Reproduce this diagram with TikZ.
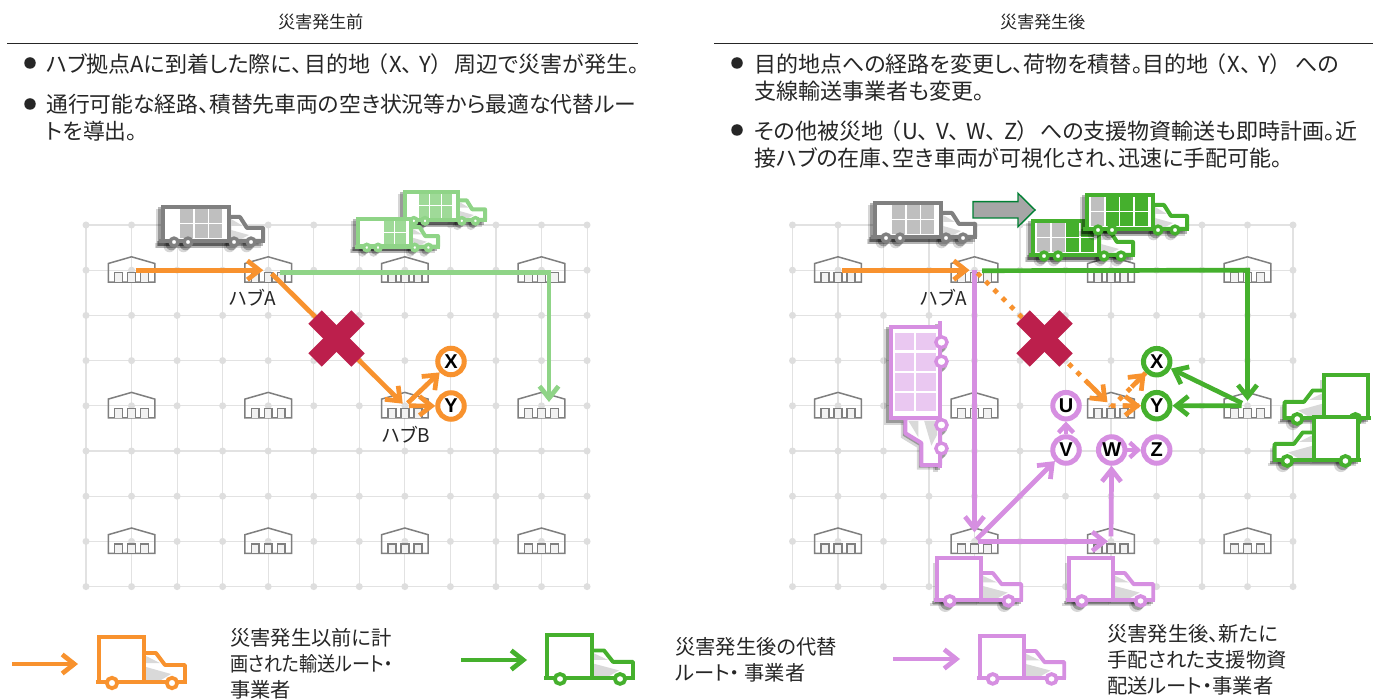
\documentclass[tikz,border=0pt]{standalone}
\usepackage{fontspec}
\setmainfont{Noto Sans CJK JP}[RawFeature={+palt}]
\newfontfamily\latinbold{Liberation Sans}[BoldFont={Liberation Sans Bold}]
\usetikzlibrary{arrows.meta,calc}
\definecolor{cgrid}{HTML}{E2E2E2}
\definecolor{cdot}{HTML}{DEDEDE}
\definecolor{chub}{HTML}{7F7F7F}
\definecolor{corange}{HTML}{F8922E}
\definecolor{cgreen}{HTML}{45B02D}
\definecolor{clight}{HTML}{8FD487}
\definecolor{cpurple}{HTML}{D68FE1}
\definecolor{cpcell}{HTML}{EAC8F1}
\definecolor{clcell}{HTML}{9FDA98}
\definecolor{cgcell}{HTML}{BFBFBF}
\definecolor{cdgray}{HTML}{808080}
\definecolor{ccross}{HTML}{BC1F4C}
\definecolor{ctext}{HTML}{262626}
\tikzset{
  route/.style={line width=4.7pt,-{Straight Barb[length=12pt,width=19pt,line width=4.7pt]}},
  oline/.style={route,draw=corange},
  gline/.style={route,draw=cgreen},
  fline/.style={route,draw=clight},
  pline/.style={route,draw=cpurple},
  dotline/.style={line width=4.7pt,draw=corange,dash pattern=on 4.7pt off 7pt},
  dothead/.style={line width=4.7pt,draw=corange,-{Straight Barb[length=12pt,width=19pt,line width=4.7pt]}},
  shortroute/.style={line width=4.4pt,draw=cpurple,-{Straight Barb[length=8pt,width=15pt,line width=4.4pt]}},
  spot/.style={circle,draw,line width=5pt,fill=white,minimum size=26.5pt,inner sep=0pt,font=\latinbold\bfseries\fontsize{20}{20}\selectfont,text=black},
  head/.style={font=\fontsize{17.2}{20}\selectfont,text=ctext,anchor=center},
  body/.style={font=\fontsize{22}{27}\selectfont,text=ctext,anchor=west,align=left,inner sep=0pt},
  legend/.style={font=\fontsize{20.3}{26}\selectfont,text=ctext,anchor=west,align=left,inner sep=0pt},
  hublabel/.style={font=\fontsize{19}{20}\selectfont,text=ctext,inner sep=0pt},
  rulebar/.style={draw=ctext,line width=0.9pt},
  bullet/.style={circle,fill=ctext,minimum size=11.5pt,inner sep=0pt},
  wh/.pic={
    \draw[chub,line width=1.5pt,line join=miter] (-23.3,12)--(-23.3,-6.7)--(0,-13.4)--(23.3,-6.7)--(23.3,12)--cycle;
    \foreach \d in {-13,0,13}{
      \draw[chub,line width=1.5pt,fill=black!5] (\d-3.9,12)--(\d-3.9,2.5)--(\d+3.9,2.5)--(\d+3.9,12);
    }
  },
  crossmark/.pic={
    \draw[ccross,line width=19pt] (-21.5,-21.5)--(21.5,21.5);
    \draw[ccross,line width=19pt] (-21.5,21.5)--(21.5,-21.5);
  }
}
% simple truck body in its own local axes
\newcommand\plainshape[2]{% #1 stroke colour, #2 window colour
  \draw[#1,line width=3.9pt,fill=white,line join=round] (45,-17)--(45,-29)--(57,-29)--(66,-17)--(86,-17)--(86,0)--(45,0)--cycle;
  \fill[#2] (47,-26)--(61,-19)--(47,-19)--cycle;
  \fill[#2] (47,-15)--(72,-8)--(62,-2)--(47,-2)--cycle;
  \draw[#1,line width=3.9pt,fill=white] (0,0) rectangle (45,-45);
  \draw[#1,line width=3.9pt] (-3,0)--(88,0);
  \draw[#1,line width=3.8pt,fill=white] (13,1) circle[radius=5.2];
  \draw[#1,line width=3.8pt,fill=white] (73,1) circle[radius=5.2];
}
\newcommand\plainblob{%
  \fill[black] (0,0) rectangle (45,-45);
  \fill[black] (45,-29)--(57,-29)--(66,-17)--(86,-17)--(86,0)--(45,0)--cycle;
  \draw[black,line width=3.9pt] (-3,0)--(88,0);
  \fill[black] (13,1) circle[radius=7];
  \fill[black] (73,1) circle[radius=7];
}
% #1 origin, #2 x vector, #3 y vector, #4 colour
\newcommand\plaintruck[4]{%
  \begin{scope}[shift={#1},x={#2},y={#3}]\plainshape{#4}{black!15}\end{scope}
}
\newcommand\plaintruckS[4]{%
  \begin{scope}[shift={#1},xshift=-4.5pt,yshift=-4.5pt,x={#2},y={#3},opacity=.16]\plainblob\end{scope}
  \begin{scope}[shift={#1},xshift=-2.5pt,yshift=-2.5pt,x={#2},y={#3},opacity=.28]\plainblob\end{scope}
  \plaintruck{#1}{#2}{#3}{#4}
}
\newcommand\loadblob{%
  \draw[black,line width=4.6pt] (0,0) rectangle (66,-34);
  \fill[black] (66,-24)--(77,-24)--(84,-13)--(100,-13)--(100,0)--(66,0)--cycle;
  \draw[black,line width=4.4pt] (-4,0)--(102,0);
  \foreach \w in {11,25,71,88}{\fill[black] (\w,1) circle[radius=5.8];}
}
% #1 origin, #2 x vector, #3 y vector, #4 colour, #5 first cell position, #6 cell list c/r/colour
\newcommand\loadtruck[6]{%
  \begin{scope}[shift={#1},xshift=-4.5pt,yshift=-4.5pt,x={#2},y={#3},opacity=.16]\loadblob\end{scope}
  \begin{scope}[shift={#1},xshift=-2.5pt,yshift=-2.5pt,x={#2},y={#3},opacity=.28]\loadblob\end{scope}
  \begin{scope}[shift={#1},x={#2},y={#3}]
    \draw[#4,line width=4pt,fill=white,line join=round] (66,-13)--(66,-24)--(77,-24)--(84,-13)--(100,-13)--(100,0)--(66,0)--cycle;
    \fill[black!15] (68,-22)--(80,-15)--(68,-15)--cycle;
    \fill[black!15] (68,-11)--(86,-6)--(78,-2)--(68,-2)--cycle;
    \draw[#4,line width=4.4pt,fill=white] (0,0) rectangle (66,-34);
    \foreach \c/\r/\k in {#6}{
      \fill[\k] ({#5+\c*14.6},{-31.5+\r*15}) rectangle ++(13,13.6);
    }
    \draw[#4,line width=4.2pt] (-4,0)--(102,0);
    \foreach \w in {11,25,71,88}{\draw[#4,line width=3.4pt,fill=white] (\w,1) circle[radius=3.9];}
  \end{scope}
}
\begin{document}
\begin{tikzpicture}[x=1pt,y=-1pt]
\fill[white] (0,0) rectangle (1380,700);
\useasboundingbox (0,0) rectangle (1380,700);
% grids
\foreach \c in {0,...,11}{
  \foreach \r in {0,...,8}{
    \coordinate (L-\c-\r) at ({86+45.55*\c},{225+45.2*\r});
    \coordinate (R-\c-\r) at ({792.5+45.5*\c},{225+45.2*\r});
  }
}
\foreach \p in {L,R}{
  \foreach \c in {0,...,11}{\draw[cgrid,line width=1.1pt] (\p-\c-0)--(\p-\c-8);}
  \foreach \r in {0,...,8}{\draw[cgrid,line width=1.1pt] (\p-0-\r)--(\p-11-\r);}
  \foreach \c in {0,...,11}{\foreach \r in {0,...,8}{\fill[cdot] (\p-\c-\r) circle[radius=3.5];}}
  \foreach \c in {1,4,7,10}{\foreach \r in {1,4,7}{\pic at (\p-\c-\r) {wh};}}
}
% headings
\node[head] (t1) at (321,22) {災害発生前};
\node[head] (t2) at (1043,22) {災害発生後};
\coordinate (r1a) at (7,43); \coordinate (r1b) at (638,43);
\coordinate (r2a) at (714,43); \coordinate (r2b) at (1373,43);
\draw[rulebar] (r1a)--(r1b);
\draw[rulebar] (r2a)--(r2b);
\node[bullet] (b1) at (30,63) {};
\node[body] (l1) at (46,64) {ハブ拠点Aに到着した際に、\hspace{2pt}目的地\hspace{6pt}（\hspace{2pt}X、\hspace{7pt}Y）\hspace{12pt}周辺で災害が発生。};
\node[bullet] (b2) at (30,104) {};
\node[body,font=\fontsize{21.8}{27}\selectfont] (l2) at (46,117.5) {通行可能な経路、積替先車両の空き状況等から最適な代替ルー\\トを導出。};
\node[bullet] (b3) at (737,63) {};
\node[body] (r1) at (754,77.5) {目的地点への経路を変更し、荷物を積替。目的地\hspace{6pt}（\hspace{2pt}X、\hspace{7pt}Y）\hspace{14pt}への\\支線輸送事業者も変更。};
\node[bullet] (b4) at (737,130) {};
\node[body] (r2) at (754,144.5) {その他被災地\hspace{6pt}（\hspace{2pt}U、\hspace{7pt}V、\hspace{7pt}W、\hspace{7pt}Z）\hspace{12pt}への支援物資輸送も即時計画。近\\接ハブの在庫、空き車両が可視化され、迅速に手配可能。};
% left panel
\node[hublabel] (la) at (253,298) {ハブA};
\node[hublabel] (lb) at (406,435) {ハブB};
\loadtruck{(405,220)}{(.8pt,0pt)}{(0pt,-.82pt)}{clight}{17}{0/0/clcell,1/0/clcell,2/0/clcell,0/1/clcell,1/1/clcell,2/1/clcell}
\loadtruck{(358,246.7)}{(.8pt,0pt)}{(0pt,-.82pt)}{clight}{32}{0/0/clcell,1/0/clcell,0/1/clcell,1/1/clcell}
\loadtruck{(163,241)}{(1pt,0pt)}{(0pt,-1pt)}{cdgray}{17}{0/0/cgcell,1/0/cgcell,2/0/cgcell,0/1/cgcell,1/1/cgcell,2/1/cgcell}
\coordinate (lgs) at (280,272.5);
\coordinate (lgb) at (549,272.5);
\coordinate (lge) at (549,402);
\draw[fline] (lgs)--(lgb)--(lge);
\draw[oline,shorten <=4pt,shorten >=5pt] (L-1-1)--(L-4-1);
\node[spot,draw=corange] (lX) at (451,361.5) {X};
\node[spot,draw=corange] (lY) at (451,406) {Y};
\draw[oline,shorten <=5pt,shorten >=3pt] (L-4-1)--(L-7-4);
\draw[oline,shorten <=4pt] (L-7-4)--(lX);
\draw[oline,shorten <=4pt] (L-7-4)--(lY);
\pic at (336.5,338.5) {crossmark};
% right panel
\node[hublabel] (ra) at (944,298) {ハブA};
\loadtruck{(875,237)}{(1pt,0pt)}{(0pt,-1pt)}{cdgray}{17}{0/0/cgcell,1/0/cgcell,2/0/cgcell,0/1/cgcell,1/1/cgcell,2/1/cgcell}
\coordinate (ba) at (973,201.7); \coordinate (bb) at (1018,201.7); \coordinate (bc) at (1018,193.3);
\coordinate (bd) at (1035,210); \coordinate (be) at (1018,226.7); \coordinate (bf) at (1018,218); \coordinate (bg) at (973,218);
\draw[draw=black!50!green!60!teal,line width=1.4pt,fill=black!35] (ba)--(bb)--(bc)--(bd)--(be)--(bf)--(bg)--cycle;
\loadtruck{(1033,255)}{(1pt,0pt)}{(0pt,-1pt)}{cgreen}{4}{0/0/cgcell,1/0/cgcell,2/0/cgreen,3/0/cgreen,0/1/cgcell,1/1/cgcell,2/1/cgreen,3/1/cgreen}
\loadtruck{(1087,229)}{(1pt,0pt)}{(0pt,-1pt)}{cgreen}{4}{0/0/cgcell,1/0/cgreen,2/0/cgreen,3/0/cgreen,0/1/cgcell,1/1/cgreen,2/1/cgreen,3/1/cgreen}
\loadtruck{(940,327)}{(0pt,-1.38pt)}{(1.44pt,0pt)}{cpurple}{4}{0/0/cpcell,1/0/cpcell,2/0/cpcell,3/0/cpcell,0/1/cpcell,1/1/cpcell,2/1/cpcell,3/1/cpcell}
\plaintruckS{(1368,418)}{(-.97pt,0pt)}{(0pt,-.95pt)}{cgreen}
\plaintruckS{(1358,460)}{(-.97pt,0pt)}{(0pt,-.95pt)}{cgreen}
\plaintruckS{(937,600)}{(.98pt,0pt)}{(0pt,-.93pt)}{cpurple}
\plaintruckS{(1069,600)}{(.98pt,0pt)}{(0pt,-.93pt)}{cpurple}
\coordinate (rgs) at (978,270.7);
\draw[pline,shorten >=9pt] (R-4-1)--(R-4-7);
\draw[dotline,shorten <=4pt] (R-4-1)--(R-7-4);
\draw[gline,shorten <=4pt,shorten >=5pt] (rgs)--(R-10-1)--(R-10-4);
\draw[oline,shorten <=4pt,shorten >=5pt] (R-1-1)--(R-4-1);
\draw[dothead,shorten >=5pt,shorten <=160pt] (R-4-1)--(R-7-4);
\node[spot,draw=cgreen] (rX) at (1156.7,361.7) {X};
\node[spot,draw=cgreen] (rY) at (1156.7,405.7) {Y};
\node[spot,draw=cpurple] (rU) at (1066,405.7) {U};
\node[spot,draw=cpurple] (rV) at (1066,450) {V};
\node[spot,draw=cpurple] (rW) at (1111.7,450) {W};
\node[spot,draw=cpurple] (rZ) at (1156.7,450) {Z};
\coordinate (rhb) at ($(R-7-4)+(8,-6)$);
\draw[dotline] (rhb)--(rX);
\draw[dothead,shorten <=18pt] (rhb)--(rX);
\draw[dotline] (R-7-4)--(rY);
\draw[dothead,shorten <=12pt] (R-7-4)--(rY);
\draw[gline,shorten <=6pt] (R-10-4)--(rX);
\draw[gline,shorten <=6pt] (R-10-4)--(rY);
\draw[pline,shorten <=3pt] (R-4-7)--(rV);
\draw[pline,shorten <=3pt,shorten >=3pt] (R-4-7)--(R-7-7);
\draw[pline,shorten <=5pt] (R-7-7)--(rW);
\draw[shortroute] (rV)--(rU);
\draw[shortroute] (rW)--(rZ);
\pic at (1044.5,338.5) {crossmark};
% legend
\coordinate (a1) at (12,664); \coordinate (a2) at (78,664);
\coordinate (a3) at (461,660); \coordinate (a4) at (527,660);
\coordinate (a5) at (893,659); \coordinate (a6) at (960,659);
\draw[oline] (a1)--(a2);
\draw[gline] (a3)--(a4);
\draw[pline] (a5)--(a6);
\plaintruck{(99,682)}{(1pt,0pt)}{(0pt,-1pt)}{corange}
\plaintruck{(547,678)}{(1pt,0pt)}{(0pt,-.95pt)}{cgreen}
\plaintruck{(980,678)}{(.98pt,0pt)}{(0pt,-.93pt)}{cpurple}
\node[legend] (t3) at (230,663.5) {災害発生以前に計\\\scalebox{.89}[1]{画された輸送ルート・}\\事業者};
\node[legend] (t4) at (675,659.5) {災害発生後の代替\\ルート・ 事業者};
\node[legend] (t5) at (1107,660) {災害発生後、新たに\\手配された支援物資\\配送ルート・事業者};
\end{tikzpicture}
\end{document}
